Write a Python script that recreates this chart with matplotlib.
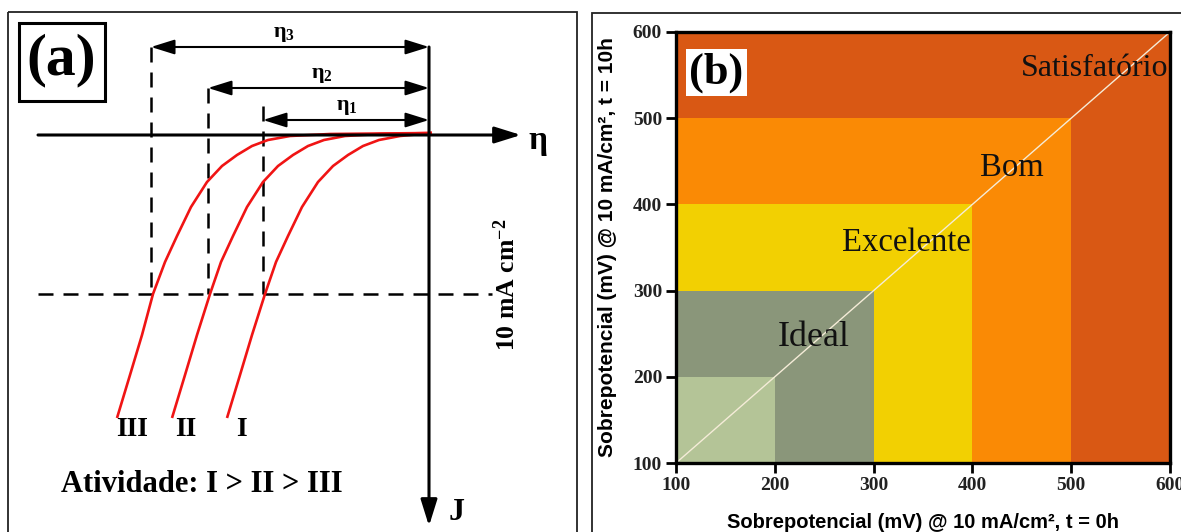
"""Two-panel figure: (a) schematic polarisation curves, (b) stability map."""

import matplotlib

matplotlib.use("Agg")
import matplotlib.pyplot as plt
from matplotlib.patches import Rectangle

plt.rcParams["mathtext.fontset"] = "custom"
plt.rcParams["mathtext.rm"] = "Liberation Serif:bold"
plt.rcParams["mathtext.it"] = "Liberation Serif:bold"
plt.rcParams["mathtext.bf"] = "Liberation Serif:bold"

SERIF = "Liberation Serif"
SANS = "Liberation Sans"

# ---- panel (a): schematic, in sketch units (x right, y down) ----
CURVE_I_X = [227, 240, 252, 265, 276, 288, 302, 318, 333, 348, 363, 379, 400, 432]
CURVE_I_Y = [418, 375, 335, 294, 262, 236, 207, 182, 166, 155, 146, 140, 136, 133]
CURVE_II_X = [172, 185, 197, 210, 221, 233, 247, 263, 278, 293, 308, 324, 345, 380, 432]
CURVE_II_Y = [418, 375, 335, 294, 262, 236, 207, 182, 166, 155, 146, 140, 136, 134, 133]
CURVE_III_X = [117, 130, 142, 153, 165, 177, 191, 207, 222, 237, 252, 268, 290, 330, 432]
CURVE_III_Y = [418, 375, 335, 294, 262, 236, 207, 182, 166, 155, 146, 140, 136, 134, 133]
CURVE_NAMES = ["I", "II", "III"]
CURVE_LABEL_X = [241, 186, 132]

ETA_LEVEL = 135          # eta axis
J_AXIS = 429             # J axis
J_REF = 294              # 10 mA cm-2 line
ETA_NAMES = [r"$η_1$", r"$η_2$", r"$η_3$"]
ETA_START = [263, 208, 151]
ETA_ROW = [120, 88, 47]
ETA_TOP = [106, 88, 47]
ETA_LABEL_X = [347, 322, 284]

# ---- panel (b): stability zones ----
ZONE_LIMITS = [600, 500, 400, 300, 200]
ZONE_COLORS = ["#d95814", "#fa8a05", "#f2d002", "#8a967a", "#b4c497"]
ZONE_NAMES = ["Satisfatório", "Bom", "Excelente", "Ideal"]
ZONE_TEXT_XY = [(598, 558), (440, 442), (333, 356), (239, 246)]
ZONE_TEXT_SIZE = [23, 23.5, 23.5, 26]
TICKS = [100, 200, 300, 400, 500, 600]

fig = plt.figure(figsize=(11.81, 5.32), dpi=100)

# ---------------- (a) ----------------
axa = fig.add_axes([0, 0, 590 / 1181, 1])
axa.set_xlim(0, 590)
axa.set_ylim(532, 0)
axa.axis("off")

axa.add_patch(Rectangle((8, 12), 569, 540, fill=False, ec="#222222", lw=1.3))
axa.add_patch(Rectangle((19, 23), 86, 78, fill=False, ec="black", lw=2.2))
axa.text(61, 60, "(a)", family=SERIF, weight="bold", fontsize=43,
         ha="center", va="center")

head = dict(arrowstyle="-|>,head_length=0.8,head_width=0.25",
            mutation_scale=20, color="black", lw=2.2, shrinkA=0, shrinkB=0)
axa.annotate("", xy=(521, ETA_LEVEL), xytext=(38, ETA_LEVEL), arrowprops=head)
axa.annotate("", xy=(J_AXIS, 526), xytext=(J_AXIS, ETA_ROW[2]), arrowprops=head)
axa.text(538, 141, "η", family=SERIF, weight="bold", fontsize=24,
         ha="center", va="center")
axa.text(457, 512, "J", family=SERIF, weight="bold", fontsize=23,
         ha="center", va="center")

dash = dict(color="black", lw=1.8, dashes=(6, 4))
axa.plot([38, 492], [J_REF, J_REF], **dash)
for x0, ytop in zip(ETA_START, ETA_TOP):
    axa.plot([x0, x0], [ytop, J_REF], **dash)

dbl = dict(arrowstyle="<|-|>,head_length=0.8,head_width=0.25",
           mutation_scale=18, color="black", lw=1.5, shrinkA=0, shrinkB=0)
for name, x0, yrow, xl in zip(ETA_NAMES, ETA_START, ETA_ROW, ETA_LABEL_X):
    axa.annotate("", xy=(x0, yrow), xytext=(J_AXIS, yrow), arrowprops=dbl)
    axa.text(xl, yrow - 13, name, fontsize=16, ha="center", va="center")

for xs, ys in [(CURVE_I_X, CURVE_I_Y), (CURVE_II_X, CURVE_II_Y),
               (CURVE_III_X, CURVE_III_Y)]:
    axa.plot(xs, ys, color="#f01414", lw=1.9, solid_capstyle="butt")
for name, x in zip(CURVE_NAMES, CURVE_LABEL_X):
    axa.text(x, 430, name, family=SERIF, weight="bold", fontsize=20,
             ha="center", va="center")

axa.text(507, 285, r"10 mA cm$^{-2}$", family=SERIF, weight="bold",
         fontsize=18.5, rotation=90, ha="center", va="center")
axa.text(61, 485, "Atividade: I > II > III", family=SERIF, weight="bold",
         fontsize=22, ha="left", va="center")

# ---------------- (b) ----------------
fig.add_artist(Rectangle((592 / 1181, -0.05), 0.5, (532 - 13) / 532 + 0.05,
                         transform=fig.transFigure, fill=False,
                         ec="#222222", lw=1.3))
axb = fig.add_axes([676 / 1181, 69 / 532, 494 / 1181, 431 / 532])
for lim, color in zip(ZONE_LIMITS, ZONE_COLORS):
    axb.add_patch(Rectangle((100, 100), lim - 100, lim - 100, fc=color, ec="none"))
axb.plot([100, 600], [100, 600], color="#f5ecd8", lw=1.0)
axb.set_xlim(100, 600)
axb.set_ylim(100, 600)
axb.set_xticks(TICKS)
axb.set_yticks(TICKS)
for lab in axb.get_xticklabels() + axb.get_yticklabels():
    lab.set_family(SERIF)
    lab.set_weight("bold")
    lab.set_fontsize(14)
    lab.set_color("#222222")
axb.tick_params(direction="out", length=7, width=2, pad=3)
for sp in axb.spines.values():
    sp.set_linewidth(2.4)

for name, (x, y), size in zip(ZONE_NAMES, ZONE_TEXT_XY, ZONE_TEXT_SIZE):
    axb.text(x, y, name, family=SERIF, fontsize=size, color="#111111",
             ha="right" if name == "Satisfatório" else "center", va="center")
axb.text(141, 553, "(b)", family=SERIF, weight="bold", fontsize=32,
         ha="center", va="center",
         bbox=dict(boxstyle="square,pad=0.08", fc="white", ec="none"))

axb.set_xlabel("Sobrepotencial (mV) @ 10 mA/cm², t = 0h", family=SANS,
               weight="bold", fontsize=14.5, labelpad=14)
axb.set_ylabel("Sobrepotencial (mV) @ 10 mA/cm², t = 10h", family=SANS,
               weight="bold", fontsize=15, labelpad=11)

fig.savefig("out.png", dpi=100)
